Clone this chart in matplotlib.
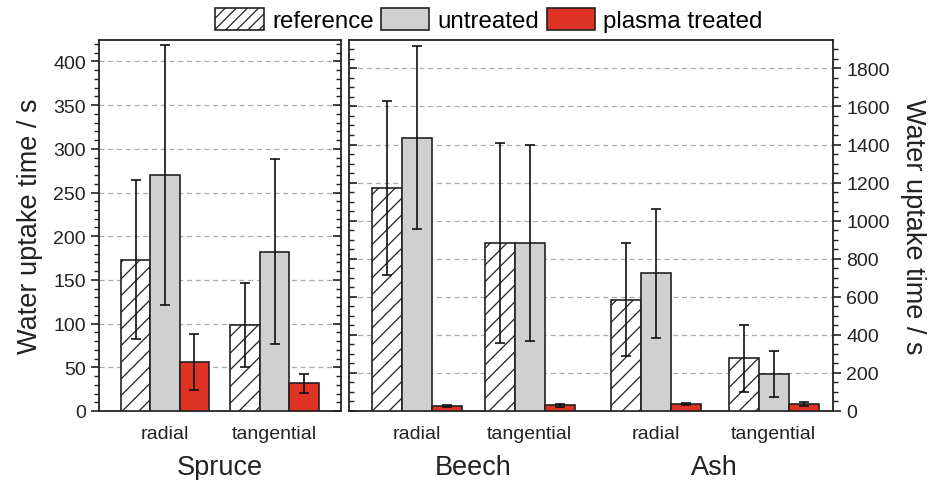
import matplotlib
matplotlib.use("Agg")
import matplotlib.pyplot as plt
from matplotlib.patches import Patch
from matplotlib.ticker import MultipleLocator
import numpy as np

plt.rcParams['font.family'] = ['Liberation Sans', 'DejaVu Sans']
plt.rcParams['hatch.linewidth'] = 0.9

# ---- data ----
series = ["reference", "untreated", "plasma treated"]
categories = ["radial", "tangential"]
species = ["Spruce", "Beech", "Ash"]

spruce_ref = [173, 98.5]
spruce_ref_err = [91, 48]
spruce_untr = [270, 182.5]
spruce_untr_err = [149, 106]
spruce_plasma = [56.5, 31.5]
spruce_plasma_err = [32, 10.5]

# Beech radial, Beech tangential, Ash radial, Ash tangential
hw_ref = [1171, 884, 584, 278]
hw_ref_err = [455, 526, 296, 176]
hw_untr = [1435, 884, 723, 194]
hw_untr_err = [480, 515, 338, 120]
hw_plasma = [28, 30, 35, 35]
hw_plasma_err = [5, 8, 5, 11]

# ---- style ----
RED = "#dd3224"
GRAY = "#d0d0d0"
EDGE = "#222222"
TXT = "#222222"
W, H = 935, 481

fig = plt.figure(figsize=(W / 100, H / 100), dpi=100)

def px_axes(x0, x1, y0, y1):
    return fig.add_axes([x0 / W, (H - y1) / H, (x1 - x0) / W, (y1 - y0) / H])

axL = px_axes(99, 341, 41, 412)
axR = px_axes(349, 833, 41, 412)

ekw = dict(ecolor="#111111", elinewidth=1.2, capsize=3.6, capthick=1.2)

def draw(ax, pos, ref, ref_e, untr, untr_e, pl, pl_e, bw):
    pos = np.asarray(pos, dtype=float)
    ax.bar(pos - bw, ref, bw, yerr=ref_e, color="white", edgecolor=EDGE,
           hatch="//", linewidth=1.2, error_kw=ekw, zorder=3)
    ax.bar(pos, untr, bw, yerr=untr_e, color=GRAY, edgecolor=EDGE,
           linewidth=1.2, error_kw=ekw, zorder=3)
    ax.bar(pos + bw, pl, bw, yerr=pl_e, color=RED, edgecolor=EDGE,
           linewidth=1.2, error_kw=ekw, zorder=3)

posL = [0, 1]
draw(axL, posL, spruce_ref, spruce_ref_err, spruce_untr, spruce_untr_err,
     spruce_plasma, spruce_plasma_err, 0.269)
axL.set_xlim(-0.603, 1.607)
axL.set_ylim(0, 424.5)

posR = [0, 0.947, 2.008, 3.0]
draw(axR, posR, hw_ref, hw_ref_err, hw_untr, hw_untr_err,
     hw_plasma, hw_plasma_err, 0.2525)
axR.set_xlim(-0.574, 3.5)
axR.set_ylim(0, 1949)

for ax in (axL, axR):
    for s in ax.spines.values():
        s.set_linewidth(1.3)
        s.set_color(EDGE)
    ax.grid(axis="y", linestyle=(0, (4, 3)), color="#aaaaaa", linewidth=0.9, zorder=0)
    ax.set_axisbelow(True)

axL.yaxis.set_major_locator(MultipleLocator(50))
axL.yaxis.set_minor_locator(MultipleLocator(10))
axL.tick_params(axis="y", which="major", direction="out", length=6, width=1.2,
                labelsize=14, right=True, colors=EDGE, labelcolor=TXT)
axL.tick_params(axis="y", which="minor", direction="out", length=3.5, width=1.0,
                right=True, colors=EDGE)

axR.yaxis.set_major_locator(MultipleLocator(200))
axR.yaxis.set_minor_locator(MultipleLocator(50))
axR.yaxis.set_ticks_position("both")
axR.tick_params(axis="y", which="major", direction="out", length=6, width=1.2,
                labelsize=14, labelleft=False, labelright=True, colors=EDGE,
                labelcolor=TXT)
axR.tick_params(axis="y", which="minor", direction="out", length=3.5, width=1.0,
                colors=EDGE)

# inner spines: ticks point inward (TICKLEFT=0, TICKRIGHT=1)
for t in axL.yaxis.get_major_ticks() + axL.yaxis.get_minor_ticks():
    t.tick2line.set_marker(0)
for t in axR.yaxis.get_major_ticks() + axR.yaxis.get_minor_ticks():
    t.tick1line.set_marker(1)

axL.set_ylabel("Water uptake time / s", fontsize=19.5, labelpad=7, color=TXT)
axR.yaxis.set_label_position("right")
axR.set_ylabel("Water uptake time / s", fontsize=19.5, rotation=270, labelpad=26,
               color=TXT)

axL.set_xticks(posL)
axL.set_xticklabels(categories)
axR.set_xticks(posR)
axR.set_xticklabels(categories * 2)
for ax in (axL, axR):
    ax.tick_params(axis="x", which="major", length=0, pad=10, labelsize=14,
                   labelcolor=TXT)

axL.text(np.mean(posL), -0.15, species[0], transform=axL.get_xaxis_transform(),
         ha="center", va="center", fontsize=19.5, color=TXT)
axR.text(np.mean(posR[:2]), -0.15, species[1], transform=axR.get_xaxis_transform(),
         ha="center", va="center", fontsize=19.5, color=TXT)
axR.text(np.mean(posR[2:]), -0.15, species[2], transform=axR.get_xaxis_transform(),
         ha="center", va="center", fontsize=19.5, color=TXT)

handles = [Patch(facecolor="white", edgecolor=EDGE, hatch="///", linewidth=1.2),
           Patch(facecolor=GRAY, edgecolor=EDGE, linewidth=1.2),
           Patch(facecolor=RED, edgecolor=EDGE, linewidth=1.2)]
fig.legend(handles, series, loc="center", bbox_to_anchor=(0.523, 0.956), ncol=3,
           frameon=False, fontsize=17.4, handlelength=2.0, handleheight=1.0,
           handletextpad=0.35, columnspacing=0.3, borderpad=0.0)

fig.savefig("out.png", dpi=100)
